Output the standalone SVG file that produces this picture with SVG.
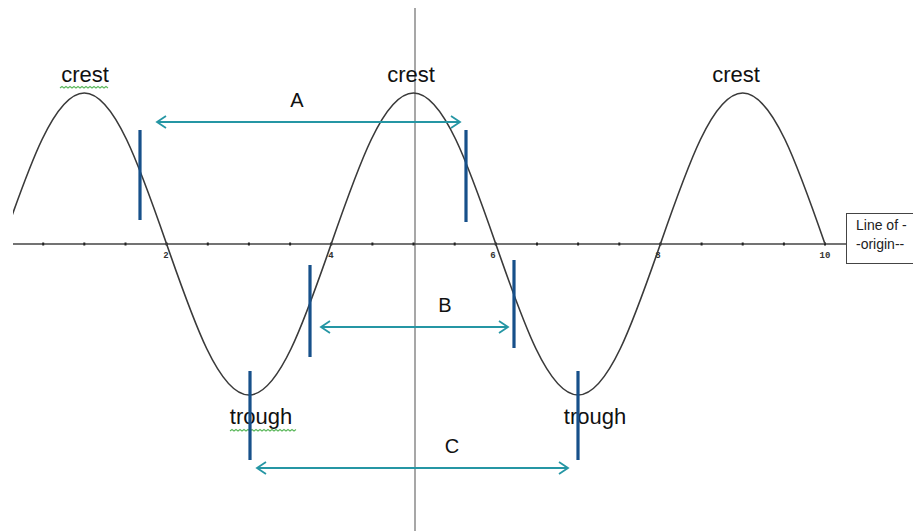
<svg xmlns="http://www.w3.org/2000/svg" width="913" height="531" viewBox="0 0 913 531">
<style>
.lbl{font-family:"Liberation Sans",Arial,sans-serif;font-size:22px;fill:#111}
.let{font-family:"Liberation Sans",Arial,sans-serif;font-size:20px;fill:#111;text-anchor:middle}
.tick{font-family:"Liberation Mono","DejaVu Sans Mono",monospace;font-size:9px;font-weight:bold;fill:#333;text-anchor:middle}
.bar{stroke:#17508a;stroke-width:3.2}
.arr{stroke:#2596a4;stroke-width:1.8;fill:none;marker-start:url(#ah);marker-end:url(#ah)}
.sq{stroke:#5cb85c;stroke-width:1.1;fill:none}
</style>
<defs>
<marker id="ah" markerUnits="userSpaceOnUse" markerWidth="14" markerHeight="14" refX="0" refY="0" viewBox="-11 -7 12 14" orient="auto-start-reverse">
<path d="M-9,-6 L0,0 L-9,6" fill="none" stroke="#2596a4" stroke-width="1.8"/>
</marker>
<clipPath id="cp"><rect x="13" y="0" width="900" height="531"/></clipPath>
</defs>
<rect width="913" height="531" fill="#fff"/>
<g id="axes">
<line x1="415" y1="8" x2="415" y2="531" stroke="#8a8a8a" stroke-width="1.5"/>
<line x1="13" y1="244" x2="847" y2="244" stroke="#444" stroke-width="1.3"/>
<g stroke="#222" stroke-width="2">
<line x1="43.2" y1="242.5" x2="43.2" y2="245.5"/><line x1="84.3" y1="242.5" x2="84.3" y2="245.5"/><line x1="125.5" y1="242.5" x2="125.5" y2="245.5"/><line x1="166.6" y1="242.5" x2="166.6" y2="245.5"/><line x1="207.8" y1="242.5" x2="207.8" y2="245.5"/><line x1="248.9" y1="242.5" x2="248.9" y2="245.5"/><line x1="290.1" y1="242.5" x2="290.1" y2="245.5"/><line x1="331.2" y1="242.5" x2="331.2" y2="245.5"/><line x1="372.4" y1="242.5" x2="372.4" y2="245.5"/><line x1="413.5" y1="242.5" x2="413.5" y2="245.5"/><line x1="454.7" y1="242.5" x2="454.7" y2="245.5"/><line x1="495.8" y1="242.5" x2="495.8" y2="245.5"/><line x1="537" y1="242.5" x2="537" y2="245.5"/><line x1="578.1" y1="242.5" x2="578.1" y2="245.5"/><line x1="619.3" y1="242.5" x2="619.3" y2="245.5"/><line x1="660.4" y1="242.5" x2="660.4" y2="245.5"/><line x1="701.6" y1="242.5" x2="701.6" y2="245.5"/><line x1="742.7" y1="242.5" x2="742.7" y2="245.5"/><line x1="783.9" y1="242.5" x2="783.9" y2="245.5"/><line x1="825" y1="242.5" x2="825" y2="245.5"/>
</g>
<text class="tick" x="166" y="258">2</text>
<text class="tick" x="331" y="258">4</text>
<text class="tick" x="493" y="258">6</text>
<text class="tick" x="658" y="258">8</text>
<text class="tick" x="825" y="258">10</text>
</g>
<g id="wave" clip-path="url(#cp)">
<path d="M2,244 C28.84,166.64 54.51,93 84.3,93 C114.09,93 139.76,166.64 166.6,244 C193.44,321.36 219.11,395 248.9,395 C278.69,395 304.36,321.36 331.2,244 C358.04,166.64 383.71,93 413.5,93 C443.29,93 468.96,166.64 495.8,244 C522.64,321.36 548.31,395 578.1,395 C607.89,395 633.56,321.36 660.4,244 C687.24,166.64 712.91,93 742.7,93 C772.49,93 798.16,166.64 825,244" fill="none" stroke="#3a3a3a" stroke-width="1.6"/>
</g>
<g id="origin-box">
<rect x="846.5" y="213.5" width="70" height="50" fill="#fff" stroke="#444" stroke-width="1"/>
<text x="856" y="230" font-family="Liberation Sans,Arial,sans-serif" font-size="14" fill="#222">Line of -</text>
<text x="856" y="249" font-family="Liberation Sans,Arial,sans-serif" font-size="14" fill="#222">-origin--</text>
</g>
<g id="labels">
<text class="lbl" x="85" y="82" text-anchor="middle">crest</text>
<path class="sq" d="M60,88 l2,-1.5 l2,1.5 l2,-1.5 l2,1.5 l2,-1.5 l2,1.5 l2,-1.5 l2,1.5 l2,-1.5 l2,1.5 l2,-1.5 l2,1.5 l2,-1.5 l2,1.5 l2,-1.5 l2,1.5 l2,-1.5 l2,1.5 l2,-1.5 l2,1.5 l2,-1.5 l2,1.5 l2,-1.5 l2,1.5"/>
<text class="lbl" x="411" y="82" text-anchor="middle">crest</text>
<text class="lbl" x="736" y="82" text-anchor="middle">crest</text>
<text class="lbl" x="261" y="424" text-anchor="middle">trough</text>
<path class="sq" d="M230,431 l2,-1.5 l2,1.5 l2,-1.5 l2,1.5 l2,-1.5 l2,1.5 l2,-1.5 l2,1.5 l2,-1.5 l2,1.5 l2,-1.5 l2,1.5 l2,-1.5 l2,1.5 l2,-1.5 l2,1.5 l2,-1.5 l2,1.5 l2,-1.5 l2,1.5 l2,-1.5 l2,1.5 l2,-1.5 l2,1.5 l2,-1.5 l2,1.5 l2,-1.5 l2,1.5 l2,-1.5 l2,1.5 l2,-1.5 l2,1.5 l2,-1.5"/>
<text class="lbl" x="595" y="424" text-anchor="middle">trough</text>
</g>
<g id="markers">
<line class="bar" x1="140" y1="130" x2="140" y2="220"/>
<line class="bar" x1="466" y1="130" x2="466" y2="222"/>
<line class="bar" x1="310" y1="265" x2="310" y2="357"/>
<line class="bar" x1="514" y1="260" x2="514" y2="348"/>
<line class="bar" x1="250" y1="371" x2="250" y2="460"/>
<line class="bar" x1="578" y1="371" x2="578" y2="460"/>
</g>
<g id="connectors">
<line class="arr" x1="157" y1="122" x2="460" y2="122"/>
<line class="arr" x1="321" y1="327" x2="508" y2="327"/>
<line class="arr" x1="257" y1="468" x2="568" y2="468"/>
</g>
<g id="distance-labels">
<text class="let" x="297" y="107">A</text>
<text class="let" x="445" y="312">B</text>
<text class="let" x="452" y="453">C</text>
</g>
</svg>
